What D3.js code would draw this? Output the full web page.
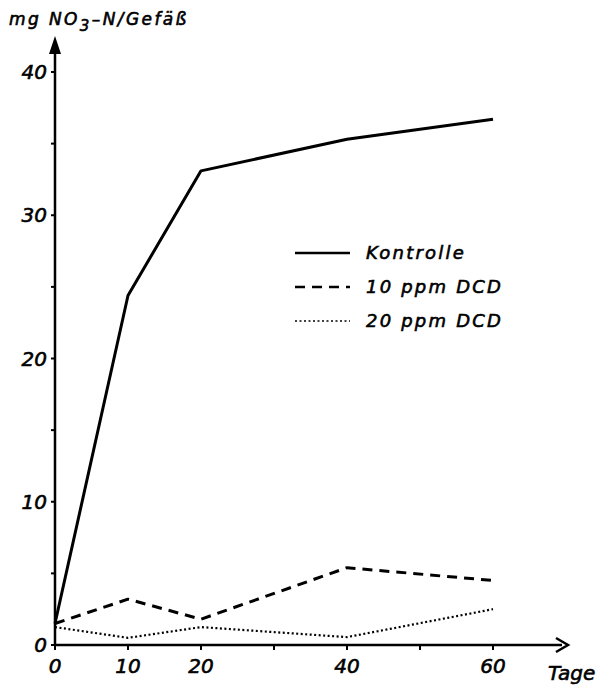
<!DOCTYPE html>
<html>
<head>
<meta charset="utf-8">
<script src="https://cdn.jsdelivr.net/npm/d3@7"></script>
<style>
    html, body { margin: 0; padding: 0; background: #fff; }
    text { font-family: "DejaVu Sans", "Liberation Sans", sans-serif; font-style: italic; fill: #000; stroke: #000; stroke-width: 0.6px; }
</style>
</head>
<body>
<div id="chart"></div>
<script>
// Data
const days = [0, 10, 20, 40, 60];
const kontrolle = [1.5, 24.4, 33.1, 35.3, 36.7];
const dcd10 = [1.5, 3.2, 1.8, 5.4, 4.5];
const dcd20 = [1.25, 0.5, 1.25, 0.55, 2.5];

const xTicks = [0, 10, 20, 30, 40, 50, 60];
const xLabels = [0, 10, 20, 40, 60];
const yTicks = [0, 5, 10, 15, 20, 25, 30, 35, 40];
const yLabels = [0, 10, 20, 30, 40];

const series = [
    { name: "Kontrolle", values: kontrolle, dash: null, width: 3 },
    { name: "10 ppm DCD", values: dcd10, dash: "10,7", width: 3 },
    { name: "20 ppm DCD", values: dcd20, dash: "2,2.5", width: 2.2 }
];

const width = 605;
const height = 691;

const svg = d3.select("#chart")
    .append("svg")
    .attr("width", width)
    .attr("height", height);

const x = d3.scaleLinear().domain([0, 60]).range([55, 493]);
const y = d3.scaleLinear().domain([0, 40]).range([645, 72]);

// Axes
const axisColor = "#000";
svg.append("line")
    .attr("x1", x(0)).attr("x2", 562)
    .attr("y1", y(0)).attr("y2", y(0))
    .attr("stroke", axisColor).attr("stroke-width", 2.5);

svg.append("line")
    .attr("x1", x(0)).attr("x2", x(0))
    .attr("y1", y(0)).attr("y2", 44)
    .attr("stroke", axisColor).attr("stroke-width", 2.5);

// y arrow head (filled)
svg.append("path")
    .attr("d", `M${x(0)},36 L${x(0) - 6},54 L${x(0) + 6},54 Z`)
    .attr("fill", axisColor);

// x arrow head (open)
svg.append("path")
    .attr("d", `M556,638 L568,${y(0)} L556,652`)
    .attr("fill", "none")
    .attr("stroke", axisColor)
    .attr("stroke-width", 2.5)
    .attr("stroke-linejoin", "miter");

// ticks
svg.selectAll(".ytick")
    .data(yTicks)
    .enter()
    .append("line")
    .attr("class", "ytick")
    .attr("x1", x(0) - 4).attr("x2", x(0))
    .attr("y1", d => y(d)).attr("y2", d => y(d))
    .attr("stroke", axisColor).attr("stroke-width", 2);

svg.selectAll(".xtick")
    .data(xTicks)
    .enter()
    .append("line")
    .attr("class", "xtick")
    .attr("x1", d => x(d)).attr("x2", d => x(d))
    .attr("y1", y(0)).attr("y2", y(0) + 5)
    .attr("stroke", axisColor).attr("stroke-width", 2);

svg.selectAll(".ylabel")
    .data(yLabels)
    .enter()
    .append("text")
    .attr("class", "ylabel")
    .attr("x", x(0) - 8)
    .attr("y", d => y(d) + 7)
    .attr("text-anchor", "end")
    .attr("font-size", 20)
    .text(d => d);

svg.selectAll(".xlabel")
    .data(xLabels)
    .enter()
    .append("text")
    .attr("class", "xlabel")
    .attr("x", d => x(d))
    .attr("y", 673)
    .attr("text-anchor", "middle")
    .attr("font-size", 20)
    .text(d => d);

svg.append("text")
    .attr("x", 548)
    .attr("y", 680)
    .attr("font-size", 20)
    .text("Tage");

// y axis title
const title = svg.append("text")
    .attr("x", 9)
    .attr("y", 25)
    .attr("font-size", 17)
    .attr("letter-spacing", 2.4);
title.append("tspan").text("mg NO");
title.append("tspan").attr("dy", 6).attr("font-size", 15).text("3");
title.append("tspan").attr("dy", -6).text("–N/Gefäß");

// lines
const line = d3.line()
    .x((d, i) => x(days[i]))
    .y(d => y(d));

svg.selectAll(".series")
    .data(series)
    .enter()
    .append("path")
    .attr("class", "series")
    .attr("d", d => line(d.values))
    .attr("fill", "none")
    .attr("stroke", "#000")
    .attr("stroke-width", d => d.width)
    .attr("stroke-dasharray", d => d.dash)
    .attr("stroke-linejoin", "round");

// legend
const legend = svg.append("g");
const legendRows = legend.selectAll(".legend-row")
    .data(series)
    .enter()
    .append("g")
    .attr("class", "legend-row")
    .attr("transform", (d, i) => `translate(0, ${253 + i * 34})`);

legendRows.append("line")
    .attr("x1", 295).attr("x2", 350)
    .attr("y1", 0).attr("y2", 0)
    .attr("stroke", "#000")
    .attr("stroke-width", d => d.width - 0.5)
    .attr("stroke-dasharray", d => d.dash);

legendRows.append("text")
    .attr("x", 366)
    .attr("y", 6)
    .attr("font-size", 18)
    .attr("letter-spacing", 2.2)
    .text(d => d.name);
</script>
</body>
</html>
